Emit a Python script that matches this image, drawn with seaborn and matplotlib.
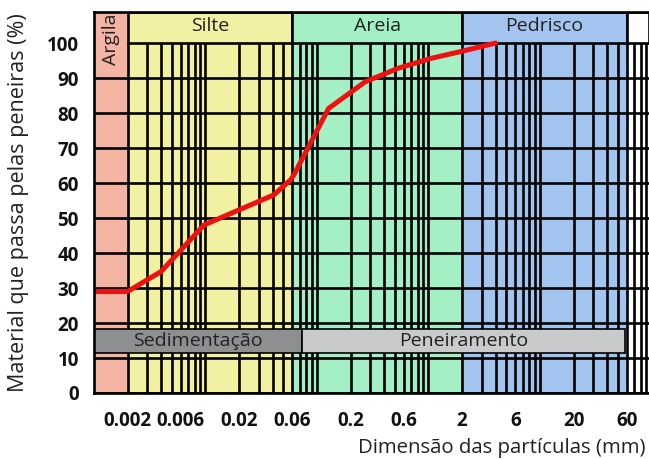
import numpy as np
import pandas as pd
import matplotlib
matplotlib.use("Agg")
import matplotlib.pyplot as plt
from matplotlib.patches import Rectangle
import matplotlib.ticker as mticker
import seaborn as sns

# ---- data ----
diam_mm = [0.001, 0.002, 0.004, 0.0097, 0.041, 0.058, 0.062, 0.127, 0.27, 0.536, 1.05, 2.1, 4.0]
passing_pct = [29, 29, 34.7, 48, 56.6, 60.9, 62.3, 81.3, 88.9, 92.8, 95.6, 97.8, 100]

class_names = ["Argila", "Silte", "Areia", "Pedrisco", ""]
class_bounds = [0.001, 0.002, 0.06, 2, 60, 95]
class_colors = ["#F4B4A4", "#F2F0A2", "#A4F0C4", "#A4C4F0", "#FFFFFF"]

method_names = ["Sedimentação", "Peneiramento"]
method_bounds = [0.001, 0.074, 58]
method_colors = ["#8E8F91", "#C9CACC"]

xtick_vals = [0.002, 0.006, 0.02, 0.06, 0.2, 0.6, 2, 6, 20, 60]
xtick_labels = ["0.002", "0.006", "0.02", "0.06", "0.2", "0.6", "2", "6", "20", "60"]
ytick_vals = list(range(0, 101, 10))

grid_decades = [-3, -2, -1, 0, 1]
grid_mults = [1, 2, 3, 4, 5, 6, 7, 8, 9]

sns.set_style("white")
plt.rcParams["font.family"] = ["Open Sans", "DejaVu Sans"]

fig = plt.figure(figsize=(6.49, 4.59), dpi=100)
ax = fig.add_axes([94 / 649, 66 / 459, 555 / 649, 381 / 459])
ax.set_xscale("log")
XMIN, XMAX = class_bounds[0], class_bounds[-1]
YMIN, YMAX = 0, 108.86
ax.set_xlim(XMIN, XMAX)
ax.set_ylim(YMIN, YMAX)

LW = 1.9
TXT = "#222222"
HDR_FS = 14

# background bands
for i, c in enumerate(class_colors):
    ax.axvspan(class_bounds[i], class_bounds[i + 1], ymin=0, ymax=100 / YMAX,
               color=c, lw=0, zorder=0)

# grid lines
gx = [m * 10.0 ** k for k in grid_decades for m in grid_mults]
gx = [v for v in gx if class_bounds[1] * 0.999 <= v <= XMAX]
ax.vlines(gx, 0, 100, colors="black", lw=LW, zorder=2)
ax.hlines([y for y in ytick_vals if y < 100], XMIN, XMAX, colors="black", lw=LW, zorder=2)

# header boxes
for i, name in enumerate(class_names):
    x0, x1 = class_bounds[i], class_bounds[i + 1]
    if i == 0:
        ax.axvspan(x0, x1, ymin=100 / YMAX, ymax=1, color=class_colors[i], lw=0, zorder=0)
        ax.text(np.sqrt(x0 * x1), 108.5, name, rotation=90, ha="center", va="top",
                fontsize=HDR_FS, color=TXT, zorder=5)
        continue
    ax.add_patch(Rectangle((x0, 100), x1 - x0, YMAX - 100, facecolor=class_colors[i],
                           edgecolor="black", lw=LW, zorder=3, clip_on=True))
    if name:
        ax.text(np.sqrt(x0 * x1), (100 + YMAX) / 2 + 0.3, name, ha="center", va="center",
                fontsize=HDR_FS, color=TXT, zorder=5)

# method boxes
for i, name in enumerate(method_names):
    x0, x1 = method_bounds[i], method_bounds[i + 1]
    ax.add_patch(Rectangle((x0, 11.4), x1 - x0, 7.0, facecolor=method_colors[i],
                           edgecolor="black", lw=1.2, zorder=3))
    ax.text(np.sqrt(x0 * x1), 15.0, name, ha="center", va="center",
            fontsize=HDR_FS, color=TXT, zorder=5)

# curve
df = pd.DataFrame({"d": diam_mm, "p": passing_pct})
sns.lineplot(data=df, x="d", y="p", ax=ax, color="#EE1111", lw=3.6, zorder=6,
             sort=False, estimator=None)

# ticks
ax.xaxis.set_major_locator(mticker.FixedLocator(xtick_vals))
ax.xaxis.set_minor_locator(mticker.NullLocator())
ax.set_xticks(xtick_vals)
ax.set_xticklabels(xtick_labels)
ax.set_yticks(ytick_vals)
ax.set_yticklabels([str(v) for v in ytick_vals])
ax.tick_params(axis="both", which="major", direction="out", length=6, width=LW,
               color="black", labelsize=13.5, pad=5, labelcolor="#111111")
ax.tick_params(axis="x", pad=7)
for lab in ax.get_xticklabels() + ax.get_yticklabels():
    lab.set_fontweight("bold")

for s in ["left", "bottom", "top"]:
    ax.spines[s].set_visible(True)
    ax.spines[s].set_color("black")
    ax.spines[s].set_linewidth(LW)
    ax.spines[s].set_zorder(7)
ax.spines["right"].set_visible(False)

ax.set_ylabel("Material que passa pelas peneiras (%)", fontsize=15.5, color=TXT)
ax.yaxis.set_label_coords(-0.118, 0.5)
ax.set_xlabel("Dimensão das partículas (mm)", fontsize=14.7, color=TXT,
              ha="right", va="center")
ax.xaxis.set_label_coords(0.993, -0.144)

fig.savefig("out.png", dpi=100)
